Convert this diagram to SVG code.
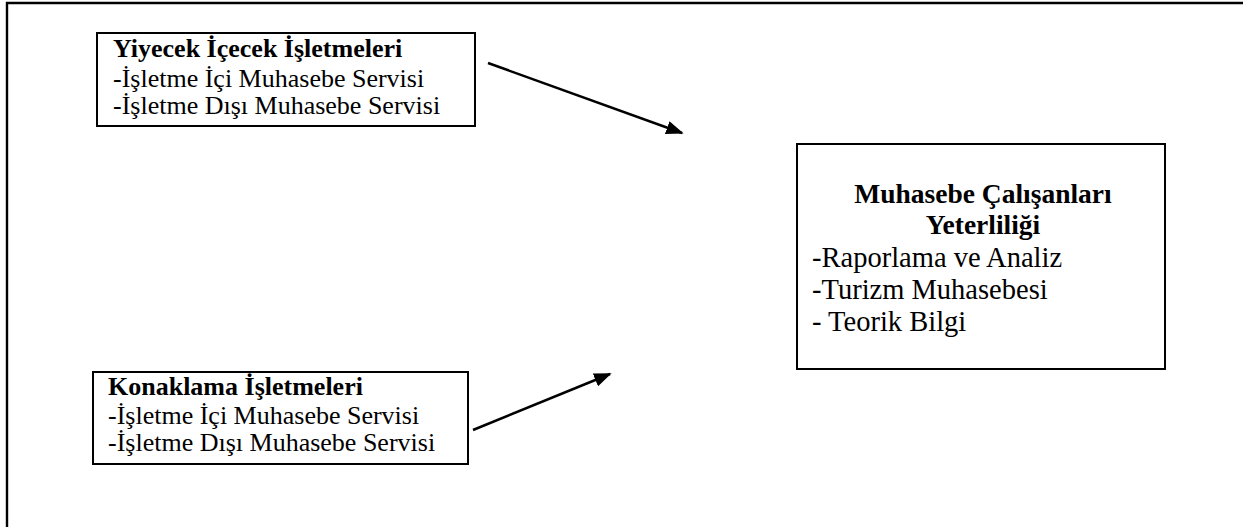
<svg xmlns="http://www.w3.org/2000/svg" width="1243" height="527" viewBox="0 0 1243 527">
<defs>
<style>
.box{fill:#fff;stroke:#000;stroke-width:2}
.t{font-family:"Liberation Serif","Times New Roman",serif;font-size:26px;fill:#000}
.b{font-weight:bold}
.r{font-family:"Liberation Serif","Times New Roman",serif;font-size:28.5px;fill:#000}
.rb{font-family:"Liberation Serif","Times New Roman",serif;font-size:27.5px;font-weight:bold;fill:#000}
.conn{stroke:#000;stroke-width:2.5;fill:none;marker-end:url(#ah)}
</style>
<marker id="ah" viewBox="0 0 10 10" refX="9" refY="5" markerWidth="7" markerHeight="5.5" markerUnits="strokeWidth" orient="auto" preserveAspectRatio="none">
<path d="M0,0 L10,5 L0,10 z" fill="#000"/>
</marker>
</defs>
<rect width="1243" height="527" fill="#fff"/>
<g id="frame">
<path d="M7,527 V3 H1243" fill="none" stroke="#000" stroke-width="2.4"/>
</g>
<g id="node-yiyecek">
<rect class="box" x="97" y="33" width="378" height="93"/>
<text class="t b" x="113" y="57">Yiyecek İçecek İşletmeleri</text>
<text class="t" x="113" y="87">-İşletme İçi Muhasebe Servisi</text>
<text class="t" x="113" y="114">-İşletme Dışı Muhasebe Servisi</text>
</g>
<g id="node-konaklama">
<rect class="box" x="93" y="372" width="375" height="92"/>
<text class="t b" x="108" y="395">Konaklama İşletmeleri</text>
<text class="t" x="108" y="424">-İşletme İçi Muhasebe Servisi</text>
<text class="t" x="108" y="451">-İşletme Dışı Muhasebe Servisi</text>
</g>
<g id="node-muhasebe">
<rect class="box" x="797" y="144" width="368" height="225"/>
<text class="rb" x="983" y="203" text-anchor="middle">Muhasebe Çalışanları</text>
<text class="rb" x="983" y="234" text-anchor="middle">Yeterliliği</text>
<text class="r" x="812" y="267">-Raporlama ve Analiz</text>
<text class="r" x="812" y="299">-Turizm Muhasebesi</text>
<text class="r" x="812" y="331">- Teorik Bilgi</text>
</g>
<g id="connectors">
<line class="conn" x1="488" y1="63" x2="682" y2="133"/>
<line class="conn" x1="473" y1="430" x2="610" y2="374"/>
</g>
</svg>
